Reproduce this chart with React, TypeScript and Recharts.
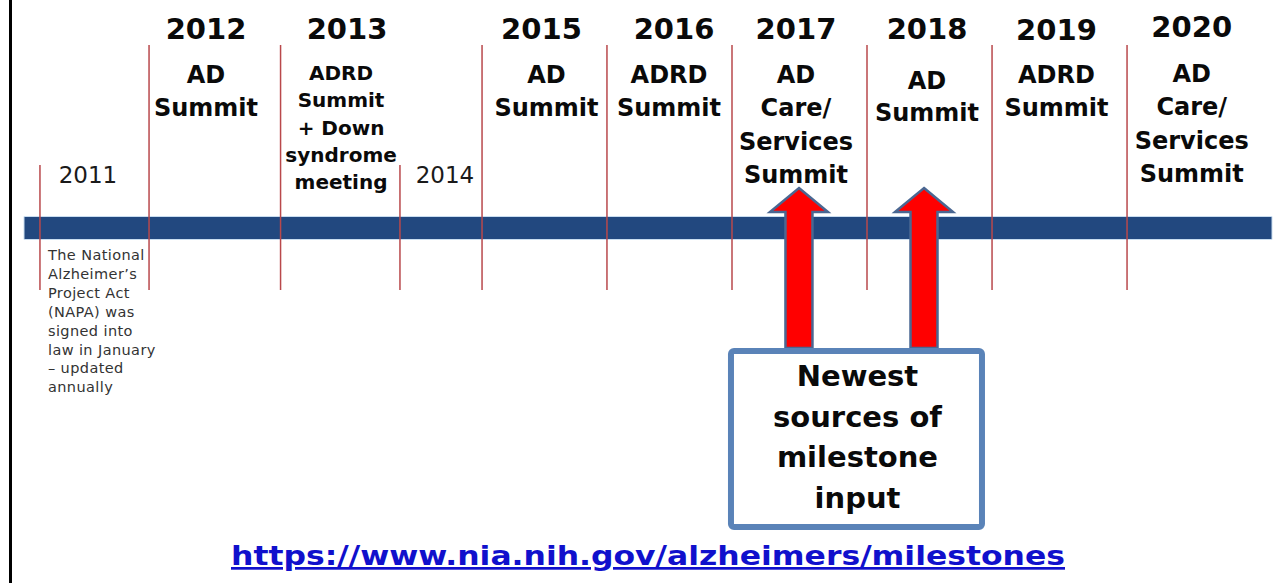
import React from 'react';
import {
  ComposedChart,
  XAxis,
  YAxis,
  Scatter,
  ReferenceArea,
  ReferenceLine,
  ReferenceDot,
} from 'recharts';

// ---------- data (timeline positions are in years) ----------
const years = [2011, 2012, 2013, 2014, 2015, 2016, 2017, 2018, 2019, 2020];
const dividerPos = [2010.933, 2011.842, 2012.938, 2013.933, 2014.617, 2015.658, 2016.7, 2017.825, 2018.867, 2019.992];
const captionPos = [2011.333, 2012.317, 2013.467, 2014.308, 2015.133, 2016.196, 2017.233, 2018.325, 2019.404, 2020.531];
const majorYear = [false, true, true, false, true, true, true, true, true, true];
const eventTitles: string[][] = [
  [],
  ['AD', 'Summit'],
  ['ADRD', 'Summit', '+ Down', 'syndrome', 'meeting'],
  [],
  ['AD', 'Summit'],
  ['ADRD', 'Summit'],
  ['AD', 'Care/', 'Services', 'Summit'],
  ['AD', 'Summit'],
  ['ADRD', 'Summit'],
  ['AD', 'Care/', 'Services', 'Summit'],
];
const napaNote = [
  'The National',
  'Alzheimer\u2019s',
  'Project Act',
  '(NAPA) was',
  'signed into',
  'law in January',
  '\u2013 updated',
  'annually',
];
const newestSourceYears = [2017, 2018];
const calloutLines = ['Newest', 'sources of', 'milestone', 'input'];
const sourceUrl = 'https://www.nia.nih.gov/alzheimers/milestones';
const timelineStart = 2010.8;
const timelineEnd = 2021.2;

// ---------- layout / style ----------
const W = 1275;
const H = 583;
const X_DOMAIN: [number, number] = [2010.6, 2010.6 + W / 120];
const BAR_CENTER = 228;
const FONT = "'DejaVu Sans', 'Liberation Sans', sans-serif";
const RED_LINE = '#B9484B';
const BAR_BLUE = '#22487F';

type CapStyle = {
  yearDy: number;
  yearDx: number;
  descDy: number;
  descDx: number;
  lead: number;
  size: number;
};
const defaultCap: CapStyle = { yearDy: -189, yearDx: 0, descDy: -145, descDx: 0, lead: 33.3, size: 24 };
const capOverride: Record<number, Partial<CapStyle>> = {
  2013: { yearDx: 3, descDx: -3, descDy: -148, lead: 27.3, size: 20 },
  2015: { yearDx: -2.5, descDx: 2.5 },
  2016: { yearDx: 2.5, descDx: -2.5 },
  2018: { descDy: -139, lead: 32 },
  2019: { yearDy: -188.5 },
  2020: { yearDy: -191.5, descDy: -146 },
};

const rows = years.map((year, i) => ({
  year,
  pos: captionPos[i],
  row: BAR_CENTER,
  major: majorYear[i],
  title: eventTitles[i],
}));

const arrowRows = newestSourceYears.map((y) => ({
  year: y,
  pos: captionPos[years.indexOf(y)],
  row: BAR_CENTER,
}));

const EventCaption = (props: any) => {
  const { cx, cy, payload } = props;
  if (cx == null || cy == null) return null;
  const st = { ...defaultCap, ...(capOverride[payload.year] || {}) };
  return (
    <g fontFamily={FONT} fill="#000">
      {payload.major ? (
        <text x={cx + st.yearDx} y={cy + st.yearDy} textAnchor="middle" fontSize={29} fontWeight="bold" fill="#0a0a0a">
          {payload.year}
        </text>
      ) : (
        <text x={cx} y={cy - 45} textAnchor="middle" fontSize={23} fill="#1a1a1a">
          {payload.year}
        </text>
      )}
      {payload.title.map((t: string, i: number) => (
        <text
          key={i}
          x={cx + st.descDx}
          y={cy + st.descDy + i * st.lead}
          textAnchor="middle"
          fontSize={st.size}
          fontWeight="bold"
          fill="#0a0a0a"
        >
          {t}
        </text>
      ))}
      {payload.year === 2011 &&
        napaNote.map((t, i) => (
          <text
            key={'n' + i}
            x={cx - 40}
            y={cy + 32 + i * 18.9}
            fontSize={14.5}
            letterSpacing={0.4}
            fill="#333"
          >
            {t}
          </text>
        ))}
    </g>
  );
};

const UpArrow = (props: any) => {
  const { cx, cy, payload } = props;
  if (cx == null || cy == null) return null;
  // arrows lean slightly toward the callout box they come from
  const x = cx + (payload && payload.year === newestSourceYears[0] ? 3 : -3);
  const tip = cy - 40;
  const base = cy - 16;
  const bottom = cy + 120;
  const hw = 29;
  const sw = 13.5;
  const pts = [
    [x, tip],
    [x + hw, base],
    [x + sw, base],
    [x + sw, bottom],
    [x - sw, bottom],
    [x - sw, base],
    [x - hw, base],
  ]
    .map((p) => p.join(','))
    .join(' ');
  return <polygon points={pts} fill="#FF0000" stroke="#4A6792" strokeWidth={2.5} strokeLinejoin="miter" />;
};

const Callout = (props: any) => {
  const { cx, cy } = props;
  if (cx == null || cy == null) return null;
  const left = cx - 5 - 125.5;
  return (
    <g fontFamily={FONT}>
      <rect x={left} y={cy + 123} width={251} height={176} rx={3} fill="#fff" stroke="#5A83B8" strokeWidth={6} />
      {calloutLines.map((t, i) => (
        <text
          key={i}
          x={cx - 4}
          y={cy + 158 + i * 40.7}
          textAnchor="middle"
          fontSize={29}
          fontWeight="bold"
          fill="#0a0a0a"
        >
          {t}
        </text>
      ))}
    </g>
  );
};

const UrlLabel = (props: any) => {
  const { cx, cy } = props;
  if (cx == null || cy == null) return null;
  return (
    <text
      x={cx}
      y={cy + 337}
      textAnchor="middle"
      fontFamily={FONT}
      fontSize={27}
      fontWeight="bold"
      fill="#1010CC"
      textDecoration="underline"
      textLength={834}
      lengthAdjust="spacingAndGlyphs"
    >
      {sourceUrl}
    </text>
  );
};

export default function App() {
  const midNewest = arrowRows.reduce((s, r) => s + r.pos, 0) / arrowRows.length;
  return (
    <div style={{ position: 'absolute', left: 0, top: 0, width: W, height: H, background: '#fff' }}>
      <div style={{ position: 'absolute', left: 8.5, top: 0, width: 3, height: H, background: '#000' }} />
      <ComposedChart
        width={W}
        height={H}
        data={rows}
        margin={{ top: 0, right: 0, bottom: 0, left: 0 }}
      >
        <XAxis type="number" dataKey="pos" domain={X_DOMAIN} hide allowDataOverflow />
        <YAxis type="number" dataKey="row" domain={[0, H]} reversed hide allowDataOverflow />
        <ReferenceArea
          x1={timelineStart}
          x2={timelineEnd}
          y1={BAR_CENTER - 11.5}
          y2={BAR_CENTER + 11.5}
          fill={BAR_BLUE}
          fillOpacity={1}
          stroke="#C9DDF0"
          strokeWidth={1}
          ifOverflow="visible"
        />
        {dividerPos.map((p, i) => (
          <ReferenceLine
            key={'d' + years[i]}
            segment={[
              { x: p, y: majorYear[i] ? 45 : 165 },
              { x: p, y: 290 },
            ]}
            stroke={RED_LINE}
            strokeWidth={1.5}
            ifOverflow="visible"
          />
        ))}
        <Scatter data={rows} dataKey="row" shape={EventCaption} isAnimationActive={false} />
        <Scatter data={arrowRows} dataKey="row" shape={UpArrow} isAnimationActive={false} />
        <ReferenceDot x={midNewest} y={BAR_CENTER} r={0} shape={Callout} ifOverflow="visible" />
        <ReferenceDot x={(timelineStart + timelineEnd) / 2} y={BAR_CENTER} r={0} shape={UrlLabel} ifOverflow="visible" />
      </ComposedChart>
    </div>
  );
}
